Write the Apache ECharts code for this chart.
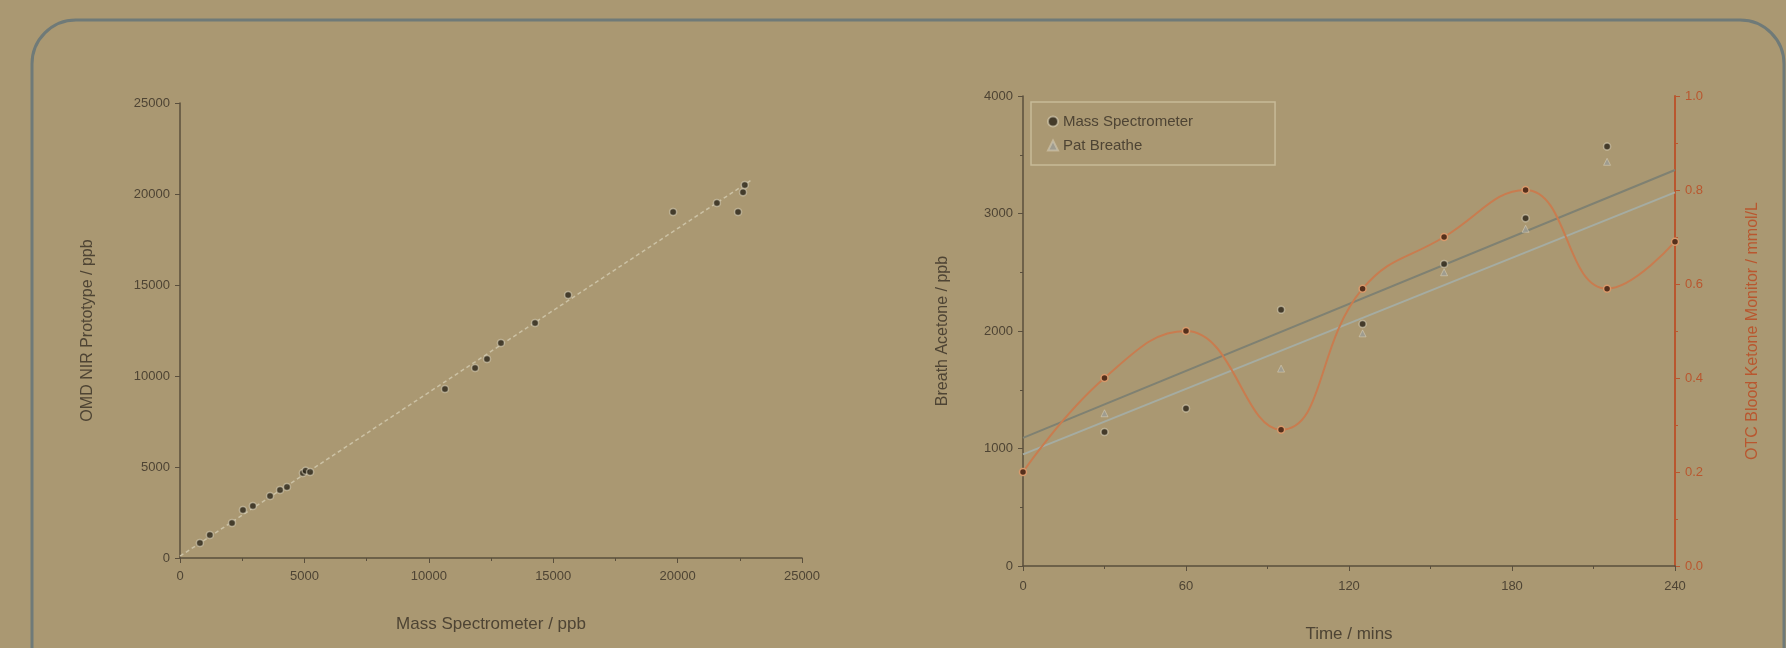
<!DOCTYPE html>
<html>
<head>
<meta charset="utf-8">
<script src="https://cdn.jsdelivr.net/npm/echarts@6/dist/echarts.min.js"></script>
<style>
html,body{margin:0;padding:0;background:#aa9872;}
#c{width:1786px;height:648px;filter:blur(0.6px);}
</style>
</head>
<body>
<div id="c"></div>
<script>
// ---- Left chart: NIR prototype vs mass spectrometer ----
const leftXTicks = [0, 5000, 10000, 15000, 20000, 25000];
const leftMS  = [800, 1200, 2090, 2530, 2930, 3620, 4020, 4300, 4940, 5050, 5230, 10650, 11860, 12340, 12900, 14270, 15600, 19820, 21580, 22430, 22630, 22700];
const leftNIR = [820, 1260, 1920, 2640, 2860, 3410, 3740, 3900, 4670, 4800, 4730, 9290, 10440, 10930, 11810, 12910, 14450, 19010, 19510, 19010, 20100, 20500];
const leftFitX = [0, 23000];
const leftFitY = [100, 20800];

// ---- Right chart: time course ----
const msTimes = [30, 60, 95, 125, 155, 185, 215];
const msVals  = [1140, 1340, 2180, 2060, 2570, 2960, 3570];
const protoTimes = [30, 95, 125, 155, 185, 215];
const protoVals  = [1300, 1680, 1980, 2500, 2870, 3440];
const ketoneTimes = [0, 30, 60, 95, 125, 155, 185, 215, 240];
const ketoneVals  = [0.20, 0.40, 0.50, 0.29, 0.59, 0.70, 0.80, 0.59, 0.69];
const msFitT = [0, 240];
const msFitV = [1090, 3370];
const protoFitT = [0, 240];
const protoFitV = [950, 3180];

const zip = (a, b) => a.map((v, i) => [v, b[i]]);
const plain = v => String(v);
const txt = '#4e4434';
const axisCol = '#5a4f3d';
const red = '#b9572f';

const chart = echarts.init(document.getElementById('c'), null, {renderer: 'canvas'});
chart.setOption({
  backgroundColor: '#aa9872',
  animation: false,
  textStyle: {fontFamily: 'Liberation Sans, Arial, sans-serif'},
  graphic: [{
    type: 'rect', z: -1, silent: true,
    shape: {x: 32, y: 20, width: 1752, height: 720, r: 44},
    style: {fill: 'rgba(0,0,0,0)', stroke: '#6f7a78', lineWidth: 3}
  }],
  legend: {
    data: ['Mass Spectrometer', 'Pat Breathe'],
    orient: 'vertical', left: 1031, top: 102,
    borderColor: '#c7ba98', borderWidth: 1.5, borderRadius: 0,
    padding: [12, 82, 12, 16], itemGap: 9,
    itemWidth: 10, itemHeight: 10,
    textStyle: {color: txt, fontSize: 15}
  },
  grid: [
    {left: 180, top: 103, width: 622, height: 455},
    {left: 1023, top: 96, width: 652, height: 477}
  ],
  xAxis: [{
    gridIndex: 0, type: 'value', min: 0, max: 25000, interval: 5000,
    name: 'Mass Spectrometer / ppb', nameLocation: 'middle', nameGap: 58,
    nameTextStyle: {color: txt, fontSize: 17},
    axisLine: {show: true, lineStyle: {color: axisCol, width: 1.5}},
    axisTick: {show: true, length: 5, lineStyle: {color: axisCol}},
    minorTick: {show: true, splitNumber: 2, length: 3, lineStyle: {color: axisCol}},
    axisLabel: {color: txt, fontSize: 13, margin: 12, formatter: plain},
    splitLine: {show: false}
  }, {
    gridIndex: 1, type: 'value', min: 0, max: 240, interval: 60,
    name: 'Time / mins', nameLocation: 'middle', nameGap: 60,
    nameTextStyle: {color: txt, fontSize: 17},
    axisLine: {show: true, lineStyle: {color: axisCol, width: 1.5}},
    axisTick: {show: true, length: 5, lineStyle: {color: axisCol}},
    minorTick: {show: true, splitNumber: 2, length: 3, lineStyle: {color: axisCol}},
    axisLabel: {color: txt, fontSize: 13, margin: 14, formatter: plain},
    splitLine: {show: false}
  }],
  yAxis: [{
    gridIndex: 0, type: 'value', min: 0, max: 25000, interval: 5000,
    name: 'OMD NIR Prototype / ppb', nameLocation: 'middle', nameGap: 84,
    nameTextStyle: {color: txt, fontSize: 16},
    axisLine: {show: true, lineStyle: {color: axisCol, width: 1.5}},
    axisTick: {show: true, length: 5, lineStyle: {color: axisCol}},
    axisLabel: {color: txt, fontSize: 13, margin: 10, formatter: plain},
    splitLine: {show: false}
  }, {
    gridIndex: 1, type: 'value', min: 0, max: 4000, interval: 1000,
    name: 'Breath Acetone / ppb', nameLocation: 'middle', nameGap: 72,
    nameTextStyle: {color: txt, fontSize: 16},
    axisLine: {show: true, lineStyle: {color: axisCol, width: 1.5}},
    axisTick: {show: true, length: 5, lineStyle: {color: axisCol}},
    minorTick: {show: true, splitNumber: 2, length: 3, lineStyle: {color: axisCol}},
    axisLabel: {color: txt, fontSize: 13, margin: 10, formatter: plain},
    splitLine: {show: false}
  }, {
    gridIndex: 1, type: 'value', position: 'right', min: 0, max: 1.0, interval: 0.2,
    name: 'OTC Blood Ketone Monitor / mmol/L', nameLocation: 'middle', nameGap: 70, nameRotate: 90,
    nameTextStyle: {color: red, fontSize: 16},
    axisLine: {show: true, lineStyle: {color: red, width: 2}},
    axisTick: {show: true, length: 5, lineStyle: {color: red}},
    minorTick: {show: true, splitNumber: 2, length: 3, lineStyle: {color: red}},
    axisLabel: {color: red, fontSize: 13, margin: 10, formatter: v => v.toFixed(1)},
    splitLine: {show: false}
  }],
  series: [
    {
      type: 'line', xAxisIndex: 0, yAxisIndex: 0, data: zip(leftFitX, leftFitY),
      symbol: 'none', lineStyle: {color: '#cbc1a4', width: 1.5, type: [4, 3]}, z: 1
    },
    {
      type: 'scatter', xAxisIndex: 0, yAxisIndex: 0, data: zip(leftMS, leftNIR),
      symbolSize: 7,
      itemStyle: {color: '#2b2519', borderColor: 'rgba(225,215,190,0.7)', borderWidth: 1.5}, z: 3
    },
    {
      name: 'MS fit', type: 'line', xAxisIndex: 1, yAxisIndex: 1, data: zip(msFitT, msFitV),
      symbol: 'none', lineStyle: {color: '#7f8172', width: 2}, z: 1
    },
    {
      name: 'Proto fit', type: 'line', xAxisIndex: 1, yAxisIndex: 1, data: zip(protoFitT, protoFitV),
      symbol: 'none', lineStyle: {color: '#a5aca2', width: 2}, z: 1
    },
    {
      name: 'Ketone', type: 'line', xAxisIndex: 1, yAxisIndex: 2, data: zip(ketoneTimes, ketoneVals),
      smooth: 0.45, symbol: 'circle', symbolSize: 7, showAllSymbol: true,
      lineStyle: {color: '#c97c4f', width: 2},
      itemStyle: {color: '#55301c', borderColor: '#d89a6c', borderWidth: 1.5}, z: 2
    },
    {
      name: 'Mass Spectrometer', type: 'scatter', xAxisIndex: 1, yAxisIndex: 1, data: zip(msTimes, msVals),
      symbol: 'circle', symbolSize: 7,
      itemStyle: {color: '#2a2418', borderColor: 'rgba(225,215,190,0.7)', borderWidth: 1.5}, z: 4
    },
    {
      name: 'Pat Breathe', type: 'scatter', xAxisIndex: 1, yAxisIndex: 1, data: zip(protoTimes, protoVals),
      symbol: 'triangle', symbolSize: 7,
      itemStyle: {color: '#9c9e96', borderColor: 'rgba(225,215,190,0.6)', borderWidth: 1}, z: 4
    }
  ]
});
</script>
</body>
</html>
